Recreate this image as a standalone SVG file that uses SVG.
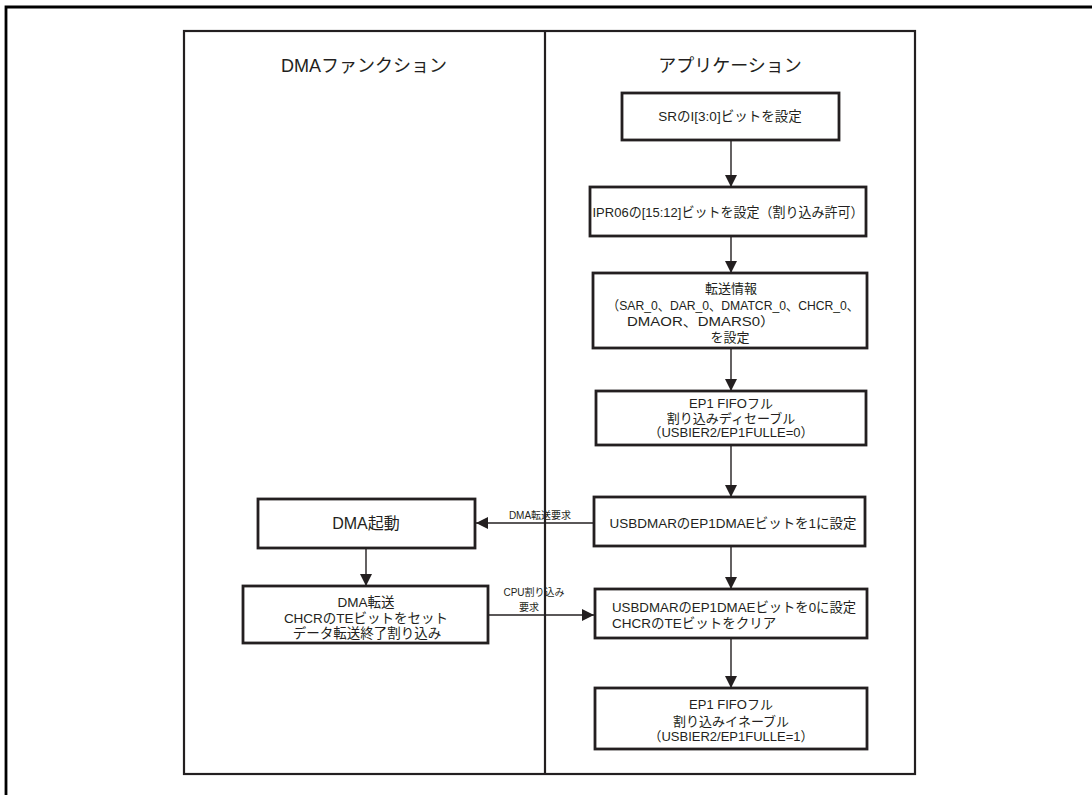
<svg xmlns="http://www.w3.org/2000/svg" width="1092" height="795" viewBox="0 0 1092 795">
<style>
text{font-family:"Liberation Sans","Noto Sans CJK JP",sans-serif;fill:#231f20;dominant-baseline:central;text-anchor:middle}
.box{fill:#fff;stroke:#231f20;stroke-width:2.8}
.t{font-size:13.5px}
.s{font-size:13px}
.title{font-size:18px}
.lbl{font-size:10px}
.ln{stroke:#231f20;stroke-width:1.4;fill:none}
.lane{fill:none;stroke:#231f20;stroke-width:2.2}
</style>
<defs>
<marker id="ah" viewBox="0 0 12 12" refX="12" refY="6" markerWidth="12" markerHeight="12" markerUnits="userSpaceOnUse" orient="auto">
<path d="M0,0 L12,6 L0,12 Z" fill="#231f20"/>
</marker>
</defs>
<rect width="1092" height="795" fill="#fff"/>
<g id="frame">
<path d="M6,795 V7 H1092" fill="none" stroke="#000" stroke-width="2.8"/>
</g>
<g id="lanes">
<rect class="lane" x="184" y="31" width="731" height="743"/>
<line class="lane" x1="545" y1="31" x2="545" y2="774"/>
<text class="title" x="364" y="66">DMAファンクション</text>
<text class="title" x="730" y="66">アプリケーション</text>
</g>
<g id="connectors">
<line class="ln" x1="731" y1="140" x2="731" y2="187" marker-end="url(#ah)"/>
<line class="ln" x1="731" y1="236" x2="731" y2="273" marker-end="url(#ah)"/>
<line class="ln" x1="731" y1="348" x2="731" y2="391" marker-end="url(#ah)"/>
<line class="ln" x1="731" y1="445" x2="731" y2="497" marker-end="url(#ah)"/>
<line class="ln" x1="731" y1="546" x2="731" y2="589" marker-end="url(#ah)"/>
<line class="ln" x1="731" y1="638" x2="731" y2="688" marker-end="url(#ah)"/>
<line class="ln" x1="366" y1="548" x2="366" y2="586" marker-end="url(#ah)"/>
<line class="ln" x1="594" y1="523" x2="476" y2="523" marker-end="url(#ah)"/>
<text class="lbl" x="540" y="515">DMA転送要求</text>
<line class="ln" x1="488" y1="615" x2="594" y2="615" marker-end="url(#ah)"/>
<text class="lbl" x="534" y="592">CPU割り込み</text>
<text class="lbl" x="529" y="607">要求</text>
</g>
<g id="n1">
<rect class="box" x="622" y="93" width="217" height="47"/>
<text class="t" x="730" y="116">SRのI[3:0]ビットを設定</text>
</g>
<g id="n2">
<rect class="box" x="590" y="187" width="276" height="49"/>
<text class="t" x="728" y="212" textLength="271" lengthAdjust="spacingAndGlyphs">IPR06の[15:12]ビットを設定（割り込み許可）</text>
</g>
<g id="n3">
<rect class="box" x="593" y="273" width="274" height="75"/>
<text class="s" x="731" y="288">転送情報</text>
<text class="s" x="733" y="305" textLength="252" lengthAdjust="spacingAndGlyphs">（SAR_0、DAR_0、DMATCR_0、CHCR_0、</text>
<text class="s" x="627" y="321" style="text-anchor:start" textLength="148" lengthAdjust="spacingAndGlyphs">DMAOR、DMARS0）</text>
<text class="s" x="730" y="337">を設定</text>
</g>
<g id="n4">
<rect class="box" x="596" y="391" width="270" height="54"/>
<text class="s" x="731" y="403">EP1 FIFOフル</text>
<text class="s" x="731" y="418">割り込みディセーブル</text>
<text class="s" x="731" y="432">（USBIER2/EP1FULLE=0）</text>
</g>
<g id="n5">
<rect class="box" x="594" y="497" width="271" height="49"/>
<text class="t" x="733" y="523" textLength="247" lengthAdjust="spacingAndGlyphs">USBDMARのEP1DMAEビットを1に設定</text>
</g>
<g id="n6">
<rect class="box" x="595" y="589" width="272" height="49"/>
<text class="t" x="612" y="607" style="text-anchor:start" textLength="244" lengthAdjust="spacingAndGlyphs">USBDMARのEP1DMAEビットを0に設定</text>
<text class="t" x="612" y="623" style="text-anchor:start">CHCRのTEビットをクリア</text>
</g>
<g id="n7">
<rect class="box" x="595" y="688" width="272" height="61"/>
<text class="s" x="731" y="704">EP1 FIFOフル</text>
<text class="s" x="731" y="721">割り込みイネーブル</text>
<text class="s" x="731" y="736">（USBIER2/EP1FULLE=1）</text>
</g>
<g id="d1">
<rect class="box" x="258" y="499" width="217" height="49"/>
<text x="366" y="523" style="font-size:16px">DMA起動</text>
</g>
<g id="d2">
<rect class="box" x="243" y="586" width="245" height="57"/>
<text class="t" x="366" y="602">DMA転送</text>
<text class="t" x="366" y="618">CHCRのTEビットをセット</text>
<text class="t" x="367" y="633">データ転送終了割り込み</text>
</g>
</svg>
